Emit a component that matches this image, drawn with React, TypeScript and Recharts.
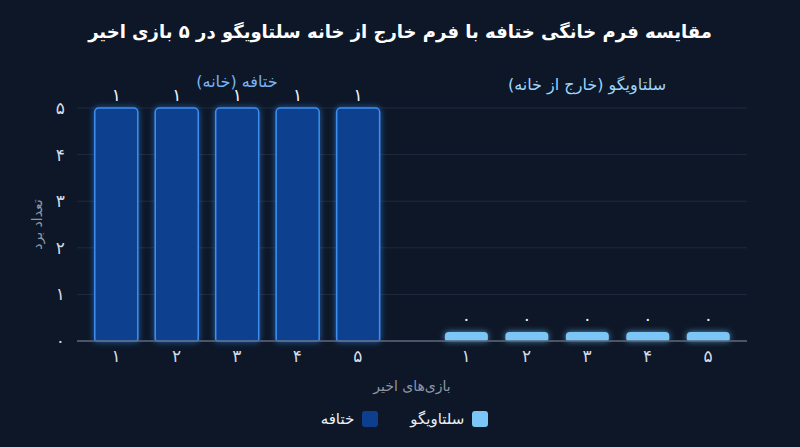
import React from "react";
import {
  BarChart,
  Bar,
  XAxis,
  YAxis,
  CartesianGrid,
  Legend,
  LabelList,
  Cell,
  ReferenceDot,
} from "recharts";

const TITLE = "مقایسه فرم خانگی ختافه با فرم خارج از خانه سلتاویگو در ۵ بازی اخیر";
const HOME_TEAM = "ختافه";
const AWAY_TEAM = "سلتاویگو";
const HOME_GROUP = "ختافه (خانه)";
const AWAY_GROUP = "سلتاویگو (خارج از خانه)";

const GAMES = [1, 2, 3, 4, 5];
const HOME_VALUES = [5, 5, 5, 5, 5];
const AWAY_VALUES = [0, 0, 0, 0, 0];
const HOME_TAGS = [1, 1, 1, 1, 1];
const AWAY_TAGS = [0, 0, 0, 0, 0];
const Y_TICKS = [0, 1, 2, 3, 4, 5];

const HOME_FILL = "#0e3f8f";
const HOME_STROKE = "#3d8ff0";
const AWAY_FILL = "#7cc6f7";
const BG = "#0d1727";

// gap between the two groups, in slots
const GROUP_GAP = 0.79;

const fa = (v: number | string) =>
  String(v).replace(/\d/g, (d) => "۰۱۲۳۴۵۶۷۸۹"[Number(d)]);

const rows = [
  ...GAMES.map((g, i) => ({
    pos: i,
    game: g,
    value: HOME_VALUES[i],
    tag: HOME_TAGS[i],
    team: "home",
  })),
  ...GAMES.map((g, i) => ({
    pos: i + GAMES.length + GROUP_GAP,
    game: g,
    value: AWAY_VALUES[i],
    tag: AWAY_TAGS[i],
    team: "away",
  })),
];

const tickLabel = (v: number) => {
  const r = rows.find((row) => Math.abs(row.pos - v) < 0.01);
  return r ? fa(r.game) : "";
};

const FONT = "'DejaVu Sans', sans-serif";

function LegendBox() {
  const items = [
    { name: HOME_TEAM, color: HOME_FILL },
    { name: AWAY_TEAM, color: AWAY_FILL },
  ];
  return (
    <div
      style={{
        display: "flex",
        justifyContent: "center",
        gap: 32,
        paddingLeft: 30,
        fontFamily: FONT,
        fontSize: 15,
        color: "#e8eef6",
      }}
    >
      {items.map((it) => (
        <div key={it.name} style={{ display: "flex", alignItems: "center", gap: 8 }}>
          <span>{it.name}</span>
          <span
            style={{
              width: 16,
              height: 16,
              borderRadius: 3,
              background: it.color,
              display: "inline-block",
            }}
          />
        </div>
      ))}
    </div>
  );
}

export default function App() {
  const homeMid = (GAMES.length - 1) / 2;
  const awayMid = homeMid + GAMES.length + GROUP_GAP;
  return (
    <div
      style={{
        position: "relative",
        width: 800,
        height: 447,
        background: BG,
        fontFamily: FONT,
      }}
    >
      <style>{"body{margin:0;background:" + BG + "}"}</style>
      <div
        style={{
          position: "absolute",
          top: 21,
          left: 0,
          width: 800,
          textAlign: "center",
          color: "#ffffff",
          fontWeight: 700,
          fontSize: 18,
          direction: "rtl",
        }}
      >
        {TITLE}
      </div>
      <BarChart
        width={800}
        height={447}
        data={rows}
        margin={{ top: 108, right: 53, left: 32, bottom: 7 }}
      >
        <defs>
          <filter id="glowDark" x="-30%" y="-10%" width="160%" height="120%">
            <feDropShadow dx="0" dy="0" stdDeviation="3" floodColor="#2f7fe8" floodOpacity="0.7" />
          </filter>
          <filter id="glowLight" x="-30%" y="-60%" width="160%" height="220%">
            <feDropShadow dx="0" dy="0" stdDeviation="3" floodColor="#6fc0f5" floodOpacity="0.7" />
          </filter>
        </defs>
        <CartesianGrid vertical={false} stroke="#1f2b3e" />
        <XAxis
          dataKey="pos"
          type="number"
          domain={["dataMin", "dataMax"]}
          padding={{ left: 39, right: 39 }}
          ticks={rows.map((r) => r.pos)}
          interval={0}
          tickFormatter={tickLabel}
          tickLine={false}
          tickSize={6}
          tickMargin={3}
          axisLine={{ stroke: "#5b6678", strokeWidth: 1.5 }}
          tick={{ fill: "#d4dbe6", fontSize: 17, fontFamily: FONT }}
          height={69}
          label={{
            value: "بازی‌های اخیر",
            position: "insideBottom",
            offset: 19,
            fill: "#8c96a8",
            fontSize: 14,
            fontFamily: FONT,
          }}
        />
        <YAxis
          domain={[0, 5]}
          ticks={Y_TICKS}
          tickFormatter={fa}
          axisLine={false}
          tickLine={false}
          width={45}
          tickMargin={6}
          tick={{ fill: "#d4dbe6", fontSize: 17, fontFamily: FONT }}
          label={(props: any) => {
            const vb = props.viewBox || {};
            const x = vb.x + 5;
            const y = vb.y + vb.height / 2;
            return (
              <text
                x={x}
                y={y}
                transform={`rotate(-90, ${x}, ${y})`}
                textAnchor="middle"
                dominantBaseline="central"
                fill="#8c96a8"
                fontSize={14}
                fontFamily={FONT}
              >
                تعداد برد
              </text>
            );
          }}
        />
        <Bar
          dataKey="value"
          barSize={43}
          minPointSize={9}
          radius={[4, 4, 2, 2]}
          isAnimationActive={false}
        >
          {rows.map((r) => (
            <Cell
              key={r.team + r.game}
              fill={r.team === "home" ? HOME_FILL : AWAY_FILL}
              stroke={r.team === "home" ? HOME_STROKE : "none"}
              strokeWidth={1.5}
              filter={r.team === "home" ? "url(#glowDark)" : "url(#glowLight)"}
            />
          ))}
          <LabelList
            dataKey="tag"
            position="top"
            offset={7}
            formatter={(v: any) => fa(v)}
            fill="#eef3f9"
            fontSize={17}
            fontFamily={FONT}
          />
        </Bar>
        <ReferenceDot
          x={homeMid}
          y={5}
          r={0}
          fill="none"
          stroke="none"
          label={{
            value: HOME_GROUP,
            position: "top",
            offset: 21,
            fill: "#79b4f2",
            fontSize: 16,
            fontFamily: FONT,
          }}
        />
        <ReferenceDot
          x={awayMid}
          y={5}
          r={0}
          fill="none"
          stroke="none"
          label={{
            value: AWAY_GROUP,
            position: "top",
            offset: 18,
            fill: "#9fd5fb",
            fontSize: 16,
            fontFamily: FONT,
          }}
        />
        <Legend verticalAlign="bottom" height={30} content={() => <LegendBox />} />
      </BarChart>
    </div>
  );
}
